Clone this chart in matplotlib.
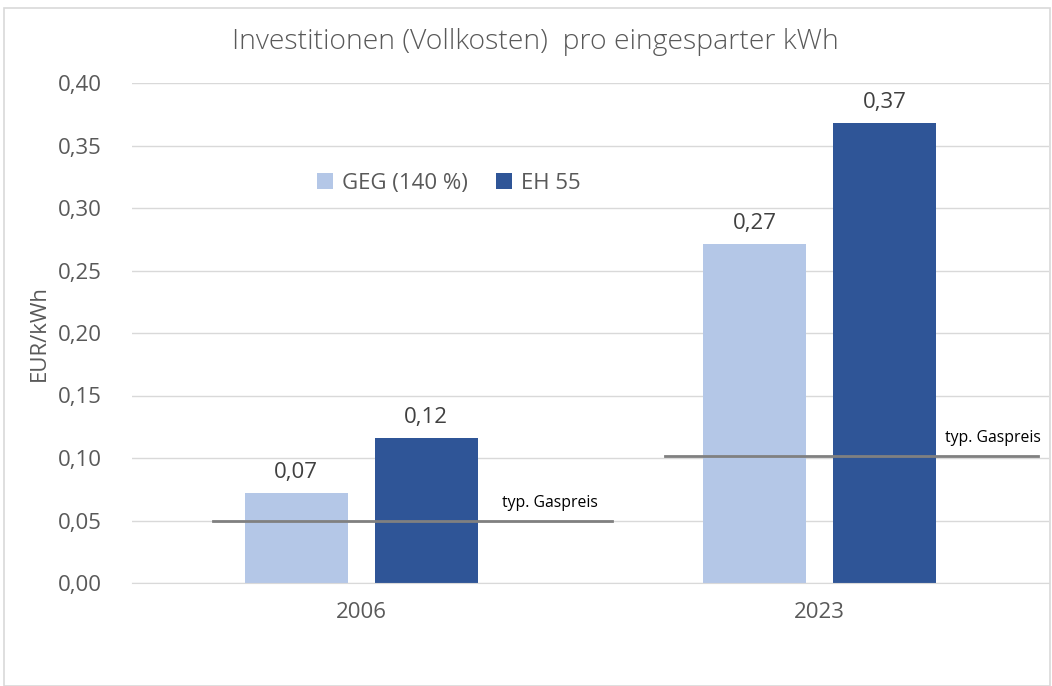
import matplotlib
matplotlib.use("Agg")
import matplotlib.pyplot as plt
from matplotlib.patches import Rectangle
import numpy as np

plt.rcParams['font.family'] = ['Open Sans', 'DejaVu Sans']

# data
years = ["2006", "2023"]
geg_values = [0.072, 0.271]
eh55_values = [0.116, 0.368]
gas_price = [0.050, 0.102]
series_names = ["GEG (140 %)", "EH 55"]

light_blue = "#B4C7E7"
dark_blue = "#2F5597"
text_col = "#595959"

fig = plt.figure(figsize=(10.52, 6.86), dpi=100)
ax = fig.add_axes([132/1052, 1 - 583/686, 917/1052, 500/686])

x = np.arange(len(years))
w = 0.225
off = 0.142
b1 = ax.bar(x - off, geg_values, w, color=light_blue, label=series_names[0], zorder=2)
b2 = ax.bar(x + off, eh55_values, w, color=dark_blue, label=series_names[1], zorder=2)

def fmt(v):
    return f"{v:.2f}".replace(".", ",")

for bars, vals in ((b1, geg_values), (b2, eh55_values)):
    for r, v in zip(bars, vals):
        ax.text(r.get_x() + r.get_width()/2, v + 0.008, fmt(v), ha="center", va="bottom",
                fontsize=16, color="#404040")

# gas price lines
line_start = [-0.323, -0.337]
line_end = [0.547, 0.477]
label_x = [0.412, 0.378]
for i, g in enumerate(gas_price):
    ax.plot([i + line_start[i], i + line_end[i]], [g, g], color="#808080", lw=2, zorder=3)
    ax.text(i + label_x[i], g + 0.008, "typ. Gaspreis", ha="center", va="bottom",
            fontsize=11.3, color="black")

ax.set_xlim(-0.5, 1.5)
ax.set_ylim(0, 0.40)
yt = np.arange(0, 0.401, 0.05)
ax.set_yticks(yt)
ax.set_yticklabels([fmt(v) for v in yt])
ax.set_xticks(x)
ax.set_xticklabels(years)
ax.tick_params(axis="both", length=0, labelsize=16, colors=text_col)
ax.tick_params(axis="y", pad=22)
ax.tick_params(axis="x", pad=14)
ax.grid(axis="y", color="#D9D9D9", lw=1, zorder=0)
for s in ax.spines.values():
    s.set_visible(False)
ax.spines["bottom"].set_visible(True)
ax.spines["bottom"].set_color("#D9D9D9")

ax.set_ylabel("EUR/kWh", fontsize=16, color=text_col)
ax.yaxis.set_label_coords(-0.09, 0.5)

leg = ax.legend(loc="center left", bbox_to_anchor=(0.18, 0.8), ncol=2, frameon=False,
                fontsize=16, handlelength=0.7, handleheight=0.7, columnspacing=1.3,
                handletextpad=0.4, labelcolor=text_col)

fig.text(535/1052, 1 - 42/686, "Investitionen (Vollkosten)  pro eingesparter kWh",
         ha="center", va="center", fontsize=20.4, color=text_col, fontweight="light")

fig.patches.append(Rectangle((4/1052, 0), 1 - 4/1052 - 0.002, 1 - 8/686, transform=fig.transFigure,
                             fill=False, edgecolor="#D9D9D9", lw=1.2))

fig.savefig("out.png", dpi=100)
